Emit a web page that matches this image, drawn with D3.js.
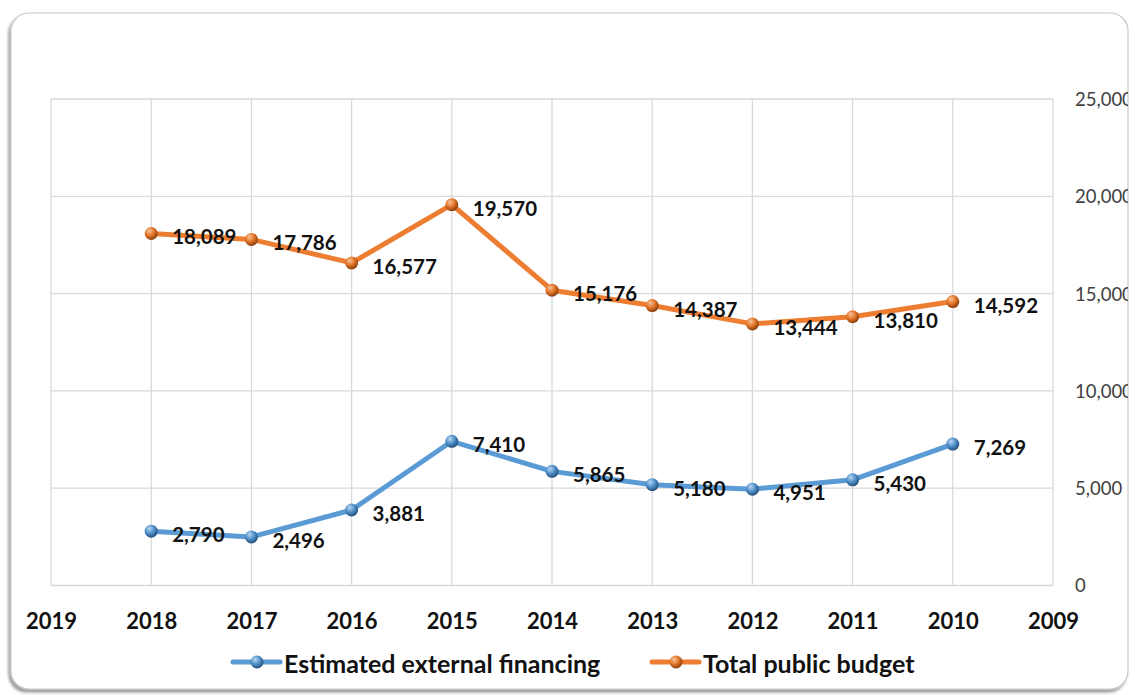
<!DOCTYPE html>
<html>
<head>
<meta charset="utf-8">
<script src="https://cdn.jsdelivr.net/npm/d3@7"></script>
<style>
  html, body { margin: 0; padding: 0; background: #ffffff; }
  svg { display: block; }
</style>
</head>
<body>
<svg id="chart" width="1135" height="695"></svg>
<script>
const years = ["2019","2018","2017","2016","2015","2014","2013","2012","2011","2010","2009"];
const dataYears = ["2018","2017","2016","2015","2014","2013","2012","2011","2010"];
const externalFinancing = [2790, 2496, 3881, 7410, 5865, 5180, 4951, 5430, 7269];
const publicBudget = [18089, 17786, 16577, 19570, 15176, 14387, 13444, 13810, 14592];
const yTicks = [0, 5000, 10000, 15000, 20000, 25000];
const seriesNames = ["Estimated external financing", "Total public budget"];
const seriesColors = ["#5B9BD5", "#ED7D31"];

const svg = d3.select("#chart");
const defs = svg.append("defs");

const f = defs.append("filter").attr("id", "shadow").attr("x", "-5%").attr("y", "-5%").attr("width", "110%").attr("height", "110%");
f.append("feDropShadow").attr("dx", -2).attr("dy", 3).attr("stdDeviation", 1.8).attr("flood-color", "#000").attr("flood-opacity", 0.4);

defs.append("clipPath").attr("id", "frameClip")
  .append("rect").attr("x", 11).attr("y", 13).attr("width", 1117).attr("height", 676).attr("rx", 18);

function sphere(id, light, base, dark) {
  const g = defs.append("radialGradient").attr("id", id)
    .attr("cx", "40%").attr("cy", "35%").attr("r", "65%").attr("fx", "35%").attr("fy", "30%");
  g.append("stop").attr("offset", "0%").attr("stop-color", light);
  g.append("stop").attr("offset", "55%").attr("stop-color", base);
  g.append("stop").attr("offset", "100%").attr("stop-color", dark);
}
sphere("sph0", "#b9d6f0", "#4f8fca", "#24507a");
sphere("sph1", "#f7c39c", "#e27426", "#8a3f0e");

svg.append("rect").attr("x", 11).attr("y", 13).attr("width", 1117).attr("height", 676).attr("rx", 18)
  .attr("fill", "#fff").attr("stroke", "#c8c8c8").attr("stroke-width", 1.2).attr("filter", "url(#shadow)");

const root = svg.append("g").attr("clip-path", "url(#frameClip)");

const x = d3.scalePoint().domain(years).range([51, 1053]);
const y = d3.scaleLinear().domain([0, 25000]).range([585.5, 99]);

// grid
root.append("g").selectAll("line").data(yTicks).join("line")
  .attr("x1", 51).attr("x2", 1053).attr("y1", d => y(d)).attr("y2", d => y(d))
  .attr("stroke", "#d9d9d9").attr("stroke-width", 1.3);
root.append("g").selectAll("line").data(years).join("line")
  .attr("x1", d => x(d)).attr("x2", d => x(d)).attr("y1", y(0)).attr("y2", y(25000))
  .attr("stroke", "#d9d9d9").attr("stroke-width", 1.3);

// right y axis
const yAxis = d3.axisRight(y).tickValues(yTicks).tickSize(0).tickPadding(0).tickFormat(d3.format(","));
const ya = root.append("g").attr("transform", "translate(1075,0)").call(yAxis);
ya.select(".domain").remove();
ya.selectAll("text").attr("font-family", "Lato, 'Open Sans', sans-serif").attr("font-size", 18.5)
  .attr("fill", "#404040").attr("dy", "0.35em");

// bottom x axis
const xAxis = d3.axisBottom(x).tickSize(0).tickPadding(0);
const xa = root.append("g").attr("transform", "translate(0,611)").call(xAxis);
xa.select(".domain").remove();
xa.selectAll("text").attr("font-family", "Lato, 'Open Sans', sans-serif").attr("font-size", 22)
  .attr("font-weight", "bold").attr("fill", "#111").attr("dy", "0.8em");

const series = [externalFinancing, publicBudget];
const line = d3.line().x((d, i) => x(dataYears[i])).y(d => y(d));

series.forEach((vals, s) => {
  const g = root.append("g");
  g.append("path").datum(vals).attr("d", line).attr("fill", "none")
    .attr("stroke", seriesColors[s]).attr("stroke-width", 5).attr("stroke-linejoin", "round").attr("stroke-linecap", "round");
  g.selectAll("circle").data(vals).join("circle")
    .attr("cx", (d, i) => x(dataYears[i])).attr("cy", d => y(d)).attr("r", 6.5)
    .attr("fill", `url(#sph${s})`);
  g.selectAll("text").data(vals).join("text")
    .attr("x", (d, i) => x(dataYears[i]) + 21).attr("y", d => y(d) + 3)
    .attr("dominant-baseline", "central")
    .attr("font-family", "Lato, 'Open Sans', sans-serif").attr("font-size", 20.5).attr("font-weight", "bold")
    .attr("fill", "#111").text(d => d3.format(",")(d));
});

// legend
const legendItems = [{x: 233, name: seriesNames[0], s: 0}, {x: 652, name: seriesNames[1], s: 1}];
const lg = root.append("g");
legendItems.forEach(it => {
  const ly = 662;
  lg.append("line").attr("x1", it.x).attr("x2", it.x + 47).attr("y1", ly).attr("y2", ly)
    .attr("stroke", seriesColors[it.s]).attr("stroke-width", 5).attr("stroke-linecap", "round");
  lg.append("circle").attr("cx", it.x + 24).attr("cy", ly).attr("r", 6.5).attr("fill", `url(#sph${it.s})`);
  lg.append("text").attr("x", it.x + 51).attr("y", ly + 1).attr("dominant-baseline", "central")
    .attr("font-family", "Lato, 'Open Sans', sans-serif").attr("font-size", 25).attr("font-weight", "bold")
    .attr("fill", "#111").text(it.name);
});
</script>
</body>
</html>
